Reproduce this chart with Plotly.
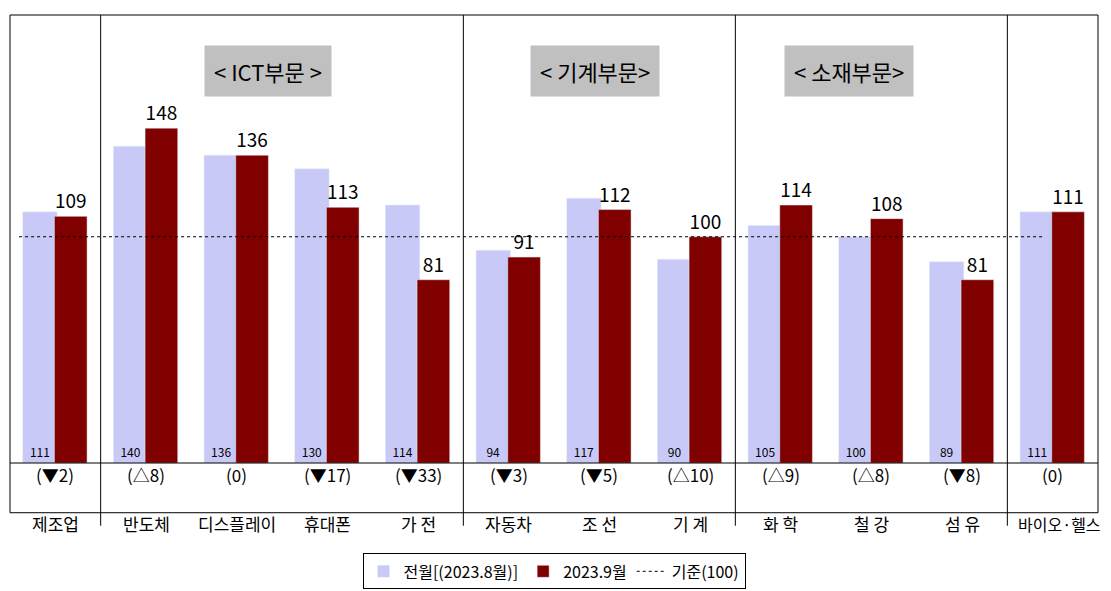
import plotly.graph_objects as go

categories = ["제조업","반도체","디스플레이","휴대폰","가 전","자동차","조 선","기 계","화 학","철 강","섬 유","바이오·헬스"]
prev_vals = [111,140,136,130,114,94,117,90,105,100,89,111]
curr_vals = [109,148,136,113,81,91,112,100,114,108,81,111]
changes = ["(▼2)","(△8)","(0)","(▼17)","(▼33)","(▼3)","(▼5)","(△10)","(△9)","(△8)","(▼8)","(0)"]
sections = [("< ICT부문 >", 2.35), ("< 기계부문>", 5.95), ("< 소재부문>", 8.75)]
base = 100

F = "Noto Sans CJK KR"
xs = list(range(len(categories)))
fig = go.Figure()
fig.add_bar(x=[i-0.17 for i in xs], y=prev_vals, width=0.38, marker_color="#c9c9f7",
            name="전월[(2023.8월)]", text=[str(v) for v in prev_vals], textposition="inside",
            insidetextanchor="start", textfont=dict(size=12, color="black"), textangle=0)
fig.add_bar(x=[i+0.17 for i in xs], y=curr_vals, width=0.36, marker_color="#800000",
            name="2023.9월", text=[str(v) for v in curr_vals], textposition="outside",
            textfont=dict(size=19, color="black"), textangle=0, cliponaxis=False)
fig.add_scatter(x=[-0.4, 10.9], y=[base, base], mode="lines", line=dict(color="black", width=1, dash="dot"),
                name="기준(100)")

shapes = []
for xv in [0.5, 4.5, 7.5, 10.5]:
    shapes.append(dict(type="line", xref="x", yref="paper", x0=xv, x1=xv, y0=1, y1=-0.14, line=dict(color="black", width=1)))
shapes.append(dict(type="rect", xref="paper", yref="paper", x0=0, x1=1, y0=-0.111, y1=1, line=dict(color="black", width=1)))
shapes.append(dict(type="line", xref="paper", yref="paper", x0=0, x1=1, y0=0, y1=0, line=dict(color="black", width=1)))
annos = []
for i in xs:
    annos.append(dict(x=i, y=-0.057, xref="x", yref="paper", text=changes[i], showarrow=False, font=dict(size=17, color="black", family=F)))
    if i == len(categories) - 1:
        annos.append(dict(x=1.005, y=-0.167, xref="paper", yref="paper", xanchor="right", text=categories[i], showarrow=False, font=dict(size=16, color="black", family=F)))
    else:
        annos.append(dict(x=i, y=-0.167, xref="x", yref="paper", text=categories[i], showarrow=False, font=dict(size=17, color="black", family=F)))
for t, xc in sections:
    annos.append(dict(x=xc, y=0.933, xref="x", yref="paper", text=t, showarrow=False, bgcolor="#c0c0c0",
                      font=dict(size=22, color="black", family=F), borderpad=9))
fig.update_layout(width=1093, height=583, margin=dict(l=2, r=3, t=7, b=126), plot_bgcolor="white", paper_bgcolor="white",
                  barmode="overlay", font=dict(family=F), shapes=shapes, annotations=annos,
                  xaxis=dict(range=[-0.5, 11.5], showticklabels=False, showgrid=False, zeroline=False),
                  yaxis=dict(range=[0, 198], visible=False),
                  showlegend=True,
                  legend=dict(orientation="h", x=0.5, xanchor="center", y=-0.242, yanchor="middle",
                              bordercolor="black", borderwidth=1, font=dict(size=16, color="black")))
fig.write_html("out.html")
